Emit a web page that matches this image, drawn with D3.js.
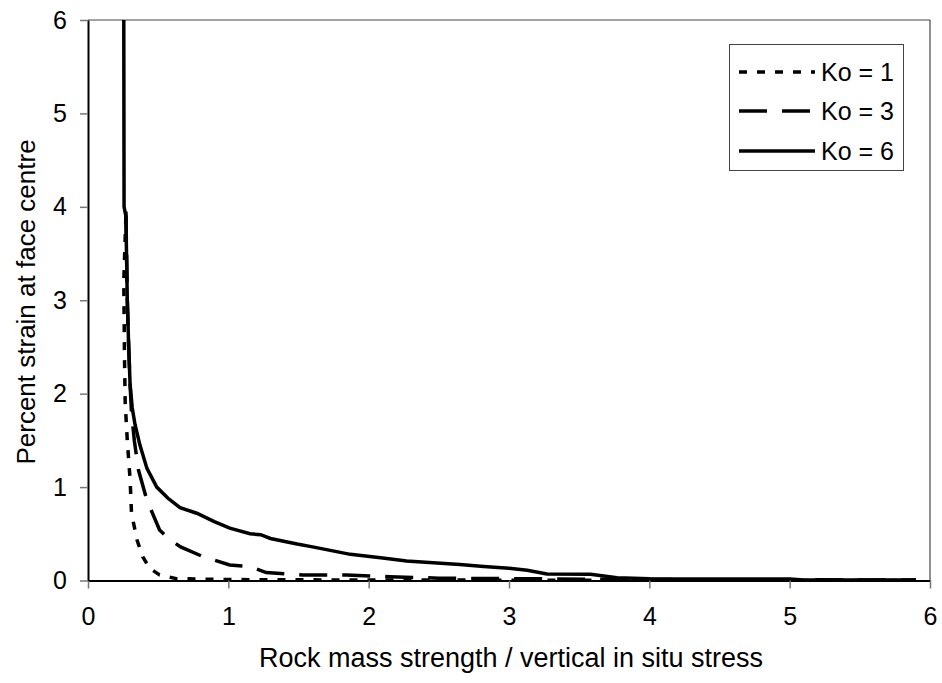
<!DOCTYPE html>
<html><head><meta charset="utf-8">
<script src="https://cdn.jsdelivr.net/npm/d3@7/dist/d3.min.js"></script>
<style>body{margin:0;background:#fff;} svg{display:block;font-family:"Liberation Sans",Arial,sans-serif;}</style>
</head><body>
<svg id="c" width="942" height="683"></svg>
<script>
const xTicks = [0,1,2,3,4,5,6];
const yTicks = [0,1,2,3,4,5,6];
const seriesNames = ["Ko = 1","Ko = 3","Ko = 6"];
const ko1 = [[0.27,3.9],[0.255,3.2],[0.26,2.4],[0.265,1.9],[0.28,1.5],[0.30,1.08],[0.31,0.72],[0.35,0.43],[0.39,0.255],[0.44,0.13],[0.51,0.06],[0.63,0.02],[1.0,0.01],[2.0,0.005],[5.9,0.0]];
const ko3 = [[0.27,3.95],[0.275,3.5],[0.28,3.0],[0.29,2.5],[0.30,2.1],[0.31,1.8],[0.33,1.5],[0.36,1.18],[0.42,0.86],[0.51,0.54],[0.58,0.44],[0.66,0.36],[0.82,0.255],[1.01,0.166],[1.155,0.15],[1.27,0.085],[1.53,0.06],[1.84,0.06],[2.15,0.04],[2.5,0.025],[3.0,0.02],[4.0,0.01],[5.9,0.005]];
const ko6 = [[0.255,6.0],[0.257,4.0],[0.27,3.9],[0.28,3.0],[0.29,2.5],[0.30,2.1],[0.315,1.85],[0.335,1.67],[0.37,1.45],[0.42,1.2],[0.49,1.0],[0.57,0.88],[0.656,0.78],[0.775,0.72],[0.9,0.63],[1.01,0.56],[1.155,0.50],[1.23,0.49],[1.30,0.45],[1.49,0.39],[1.6,0.36],[1.87,0.28],[2.10,0.24],[2.27,0.21],[2.46,0.19],[2.65,0.17],[2.82,0.15],[3.0,0.13],[3.13,0.11],[3.27,0.07],[3.58,0.066],[3.77,0.03],[4.0,0.02],[5.0,0.015],[5.1,0.005],[5.9,0.005]];
const seriesData = [ko1, ko3, ko6];
const dashes = ["8,10","28,15",null];

const svg = d3.select("#c");
const L=88,R=930,T=20,B=580.5;
const x = d3.scaleLinear().domain([0,6]).range([L,R]);
const y = d3.scaleLinear().domain([0,6]).range([B,T]);
const FONT = "Liberation Sans, Arial, sans-serif";

// frame top/right
svg.append("line").attr("x1",L).attr("x2",R).attr("y1",T).attr("y2",T).attr("stroke","#444").attr("stroke-width",1);
svg.append("line").attr("x1",R).attr("x2",R).attr("y1",T).attr("y2",B).attr("stroke","#222").attr("stroke-width",1);

const line = d3.line().x(d=>x(d[0])).y(d=>y(d[1]));
svg.append("clipPath").attr("id","clip").append("rect").attr("x",L).attr("y",T).attr("width",R-L).attr("height",B-T);
const g = svg.append("g").attr("clip-path","url(#clip)");
seriesData.forEach((d,i)=>{
  g.append("path").datum(d).attr("d",line).attr("fill","none").attr("stroke","#000")
   .attr("stroke-width",3.5).attr("stroke-dasharray",dashes[i]);
});

// axes
const xa = svg.append("g").attr("transform",`translate(0,${B})`)
  .call(d3.axisBottom(x).tickValues(xTicks).tickFormat(d3.format("d")).tickSize(8).tickSizeOuter(0).tickPadding(19));
const ya = svg.append("g").attr("transform",`translate(${L},0)`)
  .call(d3.axisLeft(y).tickValues(yTicks).tickFormat(d3.format("d")).tickSize(8).tickSizeOuter(0).tickPadding(13));
[xa,ya].forEach(a=>{
  a.attr("font-size",25).attr("font-family",FONT);
  a.select(".domain").attr("stroke","#000").attr("stroke-width",2);
  a.selectAll(".tick line").attr("stroke","#777").attr("stroke-width",1.5);
  a.selectAll(".tick text").attr("fill","#000");
});

svg.append("text").attr("x",511).attr("y",667).attr("text-anchor","middle").attr("font-size",27).attr("font-family",FONT).text("Rock mass strength / vertical in situ stress");
svg.append("text").attr("transform",`translate(35,302) rotate(-90)`).attr("text-anchor","middle").attr("font-size",26).attr("font-family",FONT).text("Percent strain at face centre");

// legend
const lg = svg.append("g");
lg.append("rect").attr("x",729.5).attr("y",44.5).attr("width",174).attr("height",126).attr("fill","#fff").attr("stroke","#444").attr("stroke-width",1);
const rows=[72,111,151];
seriesNames.forEach((n,i)=>{
  lg.append("line").attr("x1",739).attr("x2",815).attr("y1",rows[i]).attr("y2",rows[i]).attr("stroke","#000").attr("stroke-width",3.5).attr("stroke-dasharray",dashes[i]);
  lg.append("text").attr("x",821).attr("y",rows[i]+9).attr("font-size",25).attr("font-family",FONT).text(n);
});
</script>
</body></html>
